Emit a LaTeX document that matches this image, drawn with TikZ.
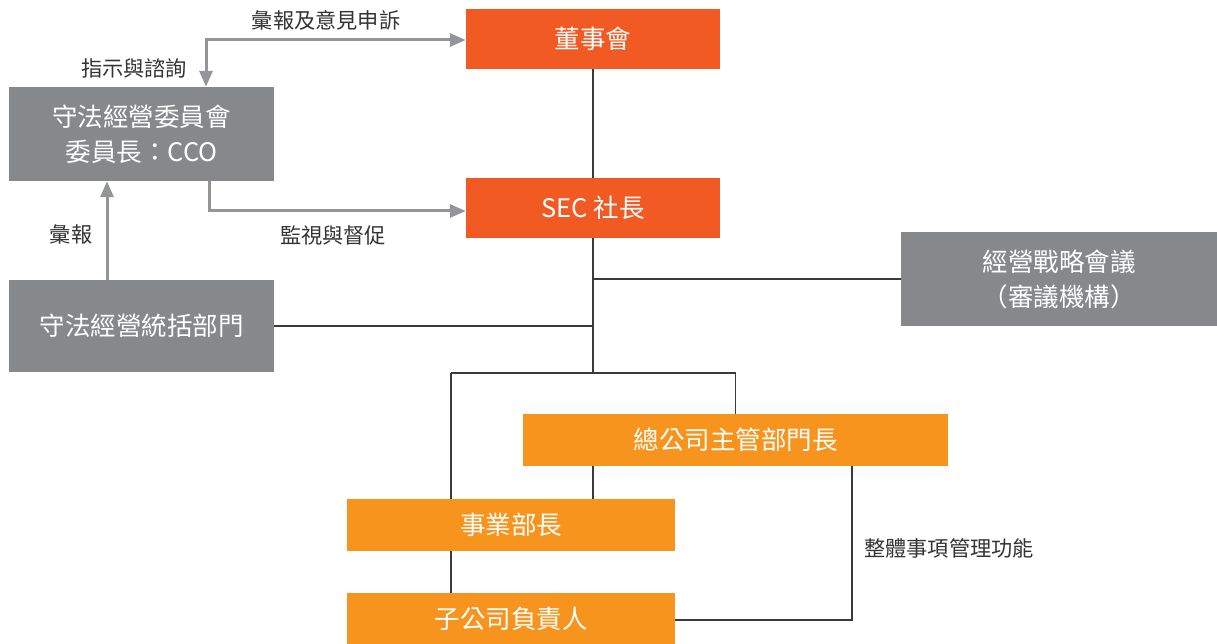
\documentclass[tikz,border=0pt]{standalone}
\usepackage{fontspec}
\setmainfont{Noto Sans CJK TC}
\usetikzlibrary{arrows.meta}
\definecolor{redor}{HTML}{F15A22}
\definecolor{orng}{HTML}{F7941E}
\definecolor{gbox}{HTML}{87888C}
\definecolor{garrow}{HTML}{949599}
\definecolor{dline}{HTML}{3A3A3A}
\definecolor{ltxt}{HTML}{333333}
\tikzset{
  boxbase/.style={rectangle, inner sep=0pt, text=white, align=center, font=\fontsize{25.5}{35}\selectfont},
  redbox/.style={boxbase, fill=redor},
  orbox/.style={boxbase, fill=orng},
  graybox/.style={boxbase, fill=gbox},
  dk/.style={draw=dline, line width=1.4pt},
  garr/.style={draw=garrow, line width=3pt, -{Triangle[length=16pt,width=13pt]}},
  garr2/.style={draw=garrow, line width=3pt, {Triangle[length=16pt,width=13pt]}-{Triangle[length=16pt,width=13pt]}},
  lbl/.style={text=ltxt, font=\fontsize{21.2}{24}\selectfont, inner sep=0pt}
}
\begin{document}
\begin{tikzpicture}[x=1pt,y=-1pt]
\useasboundingbox (0,0) rectangle (1217,644);
% boxes
\node[redbox, minimum width=254pt, minimum height=60pt] (board) at (593,39) {董事會};
\node[redbox, minimum width=254pt, minimum height=60pt] (sec) at (593,208) {SEC 社長};
\node[graybox, minimum width=265pt, minimum height=94pt] (comm) at (141.5,134) {守法經營委員會\\委員長：CCO};
\node[graybox, minimum width=265pt, minimum height=92pt] (dept) at (141.5,326) {守法經營統括部門};
\node[graybox, minimum width=316pt, minimum height=94pt] (strat) at (1059,279) {經營戰略會議\\（審議機構）};
\node[orbox, minimum width=425pt, minimum height=52pt] (hq) at (735.5,440) {總公司主管部門長};
\node[orbox, minimum width=328pt, minimum height=52pt] (biz) at (511,525) {事業部長};
\node[orbox, minimum width=328pt, minimum height=51pt] (sub) at (511,618.5) {子公司負責人};
% coordinates
\coordinate (jc) at (593,373);
\coordinate (jl) at (451,373);
\coordinate (jr) at (hq.north |- jc);
\coordinate (rx) at (852,620);
\coordinate (ax) at (206,40);
\coordinate (bx) at (209,211);
\coordinate (cx) at (107,0);
% dark connectors
\draw[dk] (board.south) -- (sec.north);
\draw[dk] (sec.south) -- (jc);
\draw[dk] (strat.west) -- (strat.west -| jc);
\draw[dk] (dept.east) -- (dept.east -| jc);
\draw[dk] (jl) -- (jr) -- (hq.north);
\draw[dk] (jl) -- (biz.north -| jl);
\draw[dk] (biz.south -| jl) -- (sub.north -| jl);
\draw[dk] (hq.south -| jc) -- (biz.north -| jc);
\draw[dk] (hq.south -| rx) -- (rx) -- (sub.east |- rx);
% gray arrows
\draw[garr2] (comm.north -| ax) -- (ax) -- (board.west |- ax);
\draw[garr] (comm.south -| bx) -- (bx) -- (sec.west |- bx);
\draw[garr] (dept.north -| cx) -- (comm.south -| cx);
% labels
\node[lbl] (l1) at (326,20) {彙報及意見申訴};
\node[lbl] (l2) at (134,68) {指示與諮詢};
\node[lbl] (l3) at (333,235) {監視與督促};
\node[lbl] (l4) at (71,234) {彙報};
\node[lbl, anchor=west] (l5) at (864,548) {整體事項管理功能};
\end{tikzpicture}
\end{document}
